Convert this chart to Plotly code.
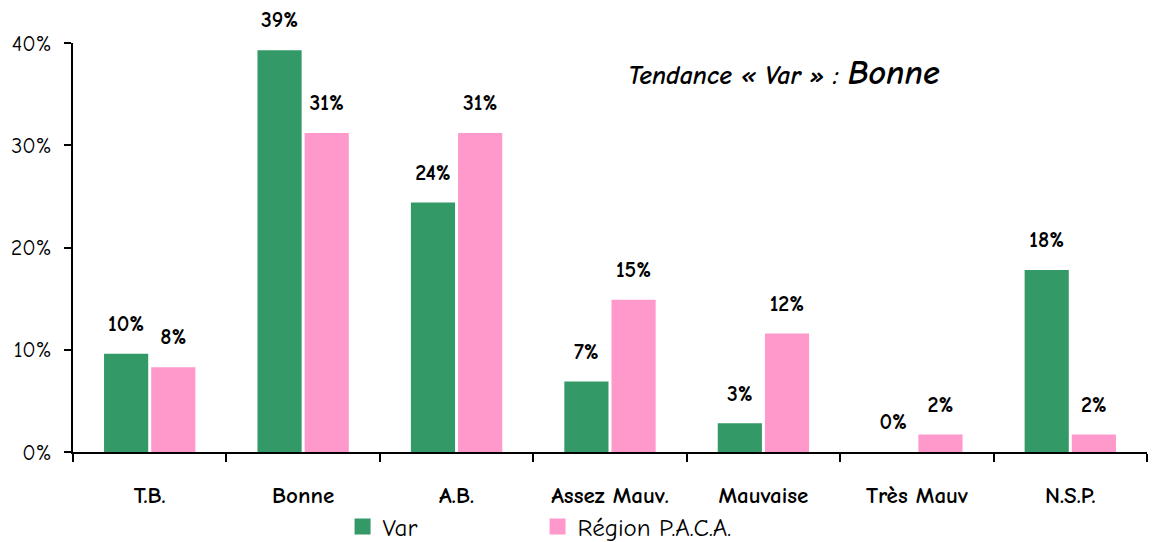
import plotly.graph_objects as go

categories = ["T.B.", "Bonne", "A.B.", "Assez Mauv.", "Mauvaise", "Très Mauv", "N.S.P."]
var_values = [9.6, 39.3, 24.4, 6.9, 2.8, 0.0, 17.8]
paca_values = [8.3, 31.2, 31.2, 14.9, 11.6, 1.7, 1.7]
series_names = ["Var", "Région P.A.C.A."]
colors = ["#339966", "#FF99CC"]
y_ticks = [0, 10, 20, 30, 40]

FONT = "Comic Sans MS, Comic Neue, DejaVu Sans, sans-serif"
BAR_GAP = 0.385

fig = go.Figure()
for name, vals, col, grp in [(series_names[0], var_values, colors[0], "a"),
                              (series_names[1], paca_values, colors[1], "b")]:
    fig.add_trace(go.Bar(x=categories, y=vals, name=name, marker_color=col,
                         marker_line_width=0, offsetgroup=grp, showlegend=False,
                         hoverinfo="x+y"))
for name, vals, grp in [(series_names[0], var_values, "a"), (series_names[1], paca_values, "b")]:
    fig.add_trace(go.Scatter(x=categories, y=vals, mode="markers+text", offsetgroup=grp,
                             text=[f"{round(v)}%" for v in vals], textposition="top center",
                             marker=dict(size=26, color="rgba(0,0,0,0)"),
                             textfont=dict(family=FONT, size=22, color="black", weight="bold"),
                             showlegend=False, hoverinfo="skip", cliponaxis=False))
# legend entries
for name, col in zip(series_names, colors):
    fig.add_trace(go.Scatter(x=[None], y=[None], mode="markers", name=name,
                             marker=dict(symbol="square", size=20, color=col)))

fig.update_layout(
    width=1155, height=542,
    margin=dict(l=72.5, r=8, t=43, b=90, autoexpand=False),
    paper_bgcolor="white", plot_bgcolor="white",
    barmode="group", bargap=BAR_GAP, bargroupgap=0.064,
    scattermode="group", scattergap=BAR_GAP,
    font=dict(family=FONT, color="black"),
    legend=dict(orientation="h", x=0.251, xanchor="left", y=-0.183, yanchor="middle",
                font=dict(size=25, family=FONT), entrywidth=150, entrywidthmode="pixels",
                itemwidth=30, bgcolor="rgba(0,0,0,0)"),
    annotations=[dict(xref="paper", yref="paper", x=0.515, y=0.927, xanchor="left", yanchor="middle",
                      text="<b><i>Tendance « Var » : <span style='font-size:34px'>Bonne</span></i></b>",
                      showarrow=False, font=dict(family=FONT, size=26, color="black"))],
)
fig.update_xaxes(type="category", range=[-0.5, 6.5], showline=True, linecolor="black", linewidth=2,
                 ticks="outside", tickson="boundaries", ticklen=8, tickwidth=2, tickcolor="black",
                 tickfont=dict(family=FONT, size=23, color="black", weight="bold"),
                 ticklabelstandoff=21, showgrid=False, zeroline=False, automargin=False)
fig.update_yaxes(range=[0, 40], tickvals=y_ticks, ticktext=[f"{t}%" for t in y_ticks],
                 showline=True, linecolor="black", linewidth=2, ticks="outside", ticklen=7,
                 tickwidth=2, tickcolor="black", tickfont=dict(family=FONT, size=22, color="black"),
                 ticklabelstandoff=8, showgrid=False, zeroline=False, automargin=False)

fig.write_html("out.html", post_script="document.body.style.margin='0';",
               config={"displayModeBar": False})
